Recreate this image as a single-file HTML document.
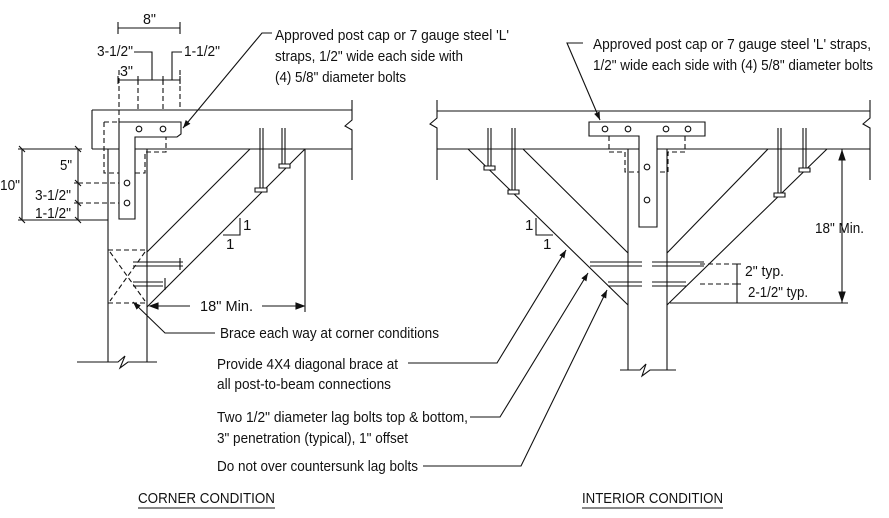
<!DOCTYPE html>
<html><head><meta charset="utf-8"><style>
html,body{margin:0;padding:0;background:#fff;width:889px;height:518px;overflow:hidden}
svg{display:block}
text{font-family:"Liberation Sans",sans-serif;font-size:15px;fill:#111}
</style></head><body>
<svg width="889" height="518" viewBox="0 0 889 518" xmlns="http://www.w3.org/2000/svg">
<defs>
<marker id="a" markerWidth="8" markerHeight="6" refX="8" refY="3" orient="auto" markerUnits="userSpaceOnUse"><path d="M0,0L8,3L0,6z" fill="#111"/></marker>
</defs>
<g stroke="#111" stroke-width="1.1" fill="none">
<path d="M92,110H352M92,110V149M92,149H352"/>
<path d="M352,100V120L345,126L352,130V180"/>
<path d="M108,149V362M147,149V362M77,362H118L125,356L120,368L128,362H157"/>
<path d="M119,122H181V134L177,137H135V219H119Z" fill="#fff"/>
<circle cx="139" cy="129" r="2.8"/><circle cx="163" cy="129" r="2.8"/>
<circle cx="127" cy="183" r="2.8"/><circle cx="127" cy="203" r="2.8"/>
<g stroke-dasharray="5,3">
<path d="M104,122H119M104,122V173H119M135,173H145V152H166V137"/>
<path d="M119,70V122M138,80V110M163,80V110M180,70V110"/>
<path d="M78,183H119M78,203H119"/>
<path d="M108,250H147M108,303H147M110,252L145,301M145,252L110,301"/>
</g>
<path d="M118,28H180M118,22V34M180,22V34"/>
<path d="M118,80H180M118,76V84M138,76V84M163,76V84M180,76V84"/>
<path d="M134,52H152V80M182,52H172V80"/>
<path d="M22,149V220M78,149V220M18,149H82M18,220H108M74,149l8,0M74,183l8,0M74,203l8,0M74,220l8,0"/>
<path d="M19,146l6,6M19,217l6,6M75,146l6,6M75,180l6,6M75,200l6,6M75,217l6,6"/>
<path d="M250,149L147,252M305,149L147,307"/>
<path d="M260,128V190M263,128V190M282,128V166M285,128V166"/>
<path d="M255,188h12v4h-12zM279,164h11v4h-11z" fill="#fff"/>
<path d="M133,262H183M133,266H183M133,282H163M133,286H163"/>
<path d="M180,258v12M165,278v12"/>
<path d="M240,218V235H223"/>
<path d="M305,149V312M150,306H190M262,306H304" />
<path d="M150,306l8,-3v6z M304,306l-8,-3v6z" fill="#111"/>
<path d="M215,333H165L133,302" marker-end="url(#a)"/>
<path d="M272,33H262L183,128" marker-end="url(#a)"/>

<path d="M437,111H870M437,149H870"/>
<path d="M437,100V118L430,124L437,128V180M870,100V118L863,124L870,128V180"/>
<path d="M628,149V370M667,149V370M620,370H640L646,364L642,376L650,370H676"/>
<path d="M589,122H705V136H657V227H639V136H589Z" fill="#fff"/>
<circle cx="605" cy="129" r="2.8"/><circle cx="628" cy="129" r="2.8"/><circle cx="666" cy="129" r="2.8"/><circle cx="688" cy="129" r="2.8"/>
<circle cx="647" cy="167" r="2.8"/><circle cx="647" cy="200" r="2.8"/>
<g stroke-dasharray="5,3">
<path d="M609,136V152H625V172H639M685,136V152H668V172H657"/>
<path d="M700,264H740M700,284H740"/>
</g>
<path d="M468,149L628,305M523,149L628,253M827,149L667,305M768,149L667,253"/>
<path d="M488,128V168M491,128V168M512,128V192M515,128V192M778,128V195M781,128V195M803,128V170M806,128V170"/>
<path d="M484,166h11v4h-11zM508,190h11v4h-11zM774,193h11v4h-11zM799,168h11v4h-11z" fill="#fff"/>
<path d="M590,262H642M590,266H642M608,282H642M608,286H642M652,262H704M652,266H704M652,282H686M652,286H686"/>
<path d="M536,218V235H553"/>
<path d="M670,303H848M842,149V303M737,264V303M733,264h8M733,284h8M733,303h8"/>
<path d="M842,151l-3,9h6zM842,301l-3,-9h6z" fill="#111"/>
<path d="M583,43H567L600,120" marker-end="url(#a)"/>
<path d="M408,363H497L566,250" marker-end="url(#a)"/>
<path d="M470,417H500L588,273" marker-end="url(#a)"/>
<path d="M423,466H521L607,290" marker-end="url(#a)"/>
<path d="M138,508H275M582,508H723"/>
</g>
<g>
<text x="143" y="24" textLength="13" lengthAdjust="spacingAndGlyphs">8"</text>
<text x="97" y="56" textLength="36" lengthAdjust="spacingAndGlyphs">3-1/2"</text>
<text x="184" y="56" textLength="36" lengthAdjust="spacingAndGlyphs">1-1/2"</text>
<text x="120" y="76" textLength="13" lengthAdjust="spacingAndGlyphs">3"</text>
<text x="0" y="190" textLength="20" lengthAdjust="spacingAndGlyphs">10"</text>
<text x="60" y="170" textLength="12" lengthAdjust="spacingAndGlyphs">5"</text>
<text x="35" y="200" textLength="36" lengthAdjust="spacingAndGlyphs">3-1/2"</text>
<text x="35" y="218" textLength="36" lengthAdjust="spacingAndGlyphs">1-1/2"</text>
<text x="243" y="230">1</text>
<text x="226" y="249">1</text>
<text x="200" y="311" textLength="53" lengthAdjust="spacingAndGlyphs">18" Min.</text>
<text x="275" y="40" textLength="234" lengthAdjust="spacingAndGlyphs">Approved post cap or 7 gauge steel  'L'</text>
<text x="275" y="61" textLength="188" lengthAdjust="spacingAndGlyphs">straps, 1/2" wide each side with</text>
<text x="275" y="82" textLength="131" lengthAdjust="spacingAndGlyphs">(4) 5/8" diameter bolts</text>
<text x="593" y="49" textLength="278" lengthAdjust="spacingAndGlyphs">Approved post cap or 7 gauge steel  'L' straps,</text>
<text x="593" y="70" textLength="280" lengthAdjust="spacingAndGlyphs">1/2" wide each side with (4) 5/8" diameter bolts</text>
<text x="525" y="230">1</text>
<text x="543" y="249">1</text>
<text x="815" y="233" textLength="49" lengthAdjust="spacingAndGlyphs">18" Min.</text>
<text x="745" y="276" textLength="39" lengthAdjust="spacingAndGlyphs">2" typ.</text>
<text x="748" y="297" textLength="60" lengthAdjust="spacingAndGlyphs">2-1/2" typ.</text>
<text x="220" y="338" textLength="219" lengthAdjust="spacingAndGlyphs">Brace each way at corner conditions</text>
<text x="217" y="369" textLength="181" lengthAdjust="spacingAndGlyphs">Provide 4X4 diagonal brace at</text>
<text x="217" y="389" textLength="174" lengthAdjust="spacingAndGlyphs">all post-to-beam connections</text>
<text x="217" y="422" textLength="251" lengthAdjust="spacingAndGlyphs">Two 1/2" diameter lag bolts  top &amp; bottom,</text>
<text x="217" y="443" textLength="191" lengthAdjust="spacingAndGlyphs">3" penetration (typical), 1" offset</text>
<text x="217" y="471" textLength="201" lengthAdjust="spacingAndGlyphs">Do not over countersunk lag bolts</text>
<text x="138" y="503" textLength="137" lengthAdjust="spacingAndGlyphs">CORNER CONDITION</text>
<text x="582" y="503" textLength="141" lengthAdjust="spacingAndGlyphs">INTERIOR CONDITION</text>
</g>
</svg>
</body></html>
